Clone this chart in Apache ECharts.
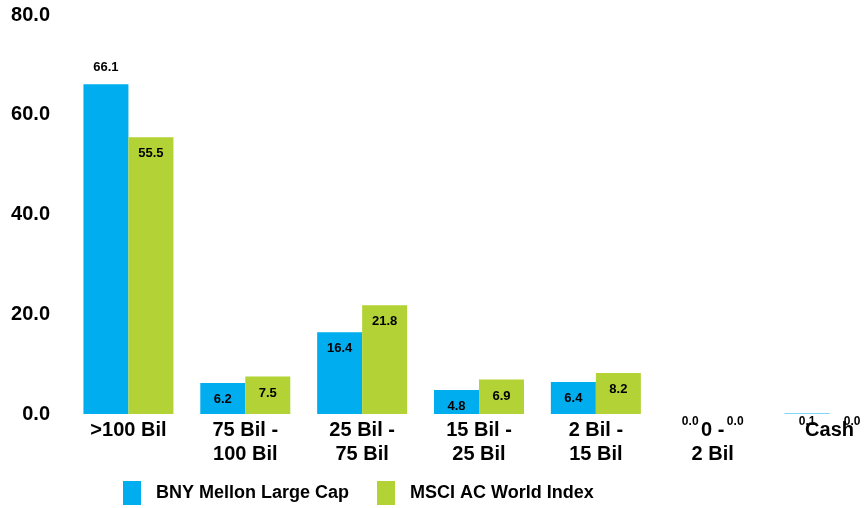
<!DOCTYPE html>
<html>
<head>
<meta charset="utf-8">
<script src="https://cdn.jsdelivr.net/npm/echarts@6/dist/echarts.min.js"></script>
<style>
  html, body { margin: 0; padding: 0; background: #ffffff; }
  #chart { width: 867px; height: 508px; }
</style>
</head>
<body>
<div id="chart"></div>
<script>
// Market-cap breakdown: fund vs. benchmark (%)
const categories = [">100 Bil", "75 Bil -\n100 Bil", "25 Bil -\n75 Bil", "15 Bil -\n25 Bil", "2 Bil -\n15 Bil", "0 -\n2 Bil", "Cash"];
const fundName = "BNY Mellon Large Cap";
const indexName = "MSCI AC World Index";
const fundValues = [66.1, 6.2, 16.4, 4.8, 6.4, 0.0, 0.1];
const indexValues = [55.5, 7.5, 21.8, 6.9, 8.2, 0.0, 0.0];
const yTicks = [0, 20, 40, 60, 80];

const FONT = "'Liberation Sans', Arial, sans-serif";

function valueLabel(v) {
  const zero = v < 0.5;
  return {
    show: true,
    position: 'insideTop',
    distance: zero ? 2 : 10,
    fontFamily: FONT,
    fontWeight: 'bold',
    fontSize: zero ? 12 : 13,
    color: '#000',
    formatter: (p) => p.value.toFixed(1)
  };
}

function buildData(values, tallAbove) {
  return values.map((v, i) => {
    const item = { value: v, label: valueLabel(v) };
    if (tallAbove && i === 0) {
      item.label = Object.assign({}, item.label, { position: 'top', distance: 10 });
    }
    return item;
  });
}

const chart = echarts.init(document.getElementById('chart'), null, { renderer: 'canvas' });
chart.setOption({
  animation: false,
  backgroundColor: '#ffffff',
  // the last column runs slightly past the right edge of the canvas
  grid: { left: 70, width: 818, top: 15, bottom: 94, containLabel: false, outerBoundsMode: 'none' },
  legend: {
    top: 481,
    left: 123,
    padding: 0,
    itemWidth: 18,
    itemHeight: 24,
    itemGap: 28,
    icon: 'rect',
    textStyle: { fontFamily: FONT, fontWeight: 'bold', fontSize: 18, color: '#000', padding: [0, 0, 0, 10] },
    data: [fundName, indexName]
  },
  xAxis: {
    type: 'category',
    data: categories,
    axisLine: { show: false },
    axisTick: { show: false },
    axisLabel: {
      margin: 4,
      fontFamily: FONT,
      fontWeight: 'bold',
      fontSize: 20,
      lineHeight: 24,
      color: '#000',
      interval: 0,
      verticalAlign: 'top'
    }
  },
  yAxis: {
    type: 'value',
    min: yTicks[0],
    max: yTicks[yTicks.length - 1],
    interval: yTicks[1] - yTicks[0],
    splitLine: { show: false },
    axisLine: { show: false },
    axisTick: { show: false },
    axisLabel: {
      margin: 20,
      fontFamily: FONT,
      fontWeight: 'bold',
      fontSize: 20,
      color: '#000',
      formatter: (v) => v.toFixed(1)
    }
  },
  series: [
    {
      name: fundName,
      type: 'bar',
      barWidth: 45,
      barGap: '0%',
      itemStyle: { color: '#00AEEF' },
      data: buildData(fundValues, true)
    },
    {
      name: indexName,
      type: 'bar',
      barWidth: 45,
      itemStyle: { color: '#B2D235' },
      data: buildData(indexValues, false)
    }
  ]
});
</script>
</body>
</html>
